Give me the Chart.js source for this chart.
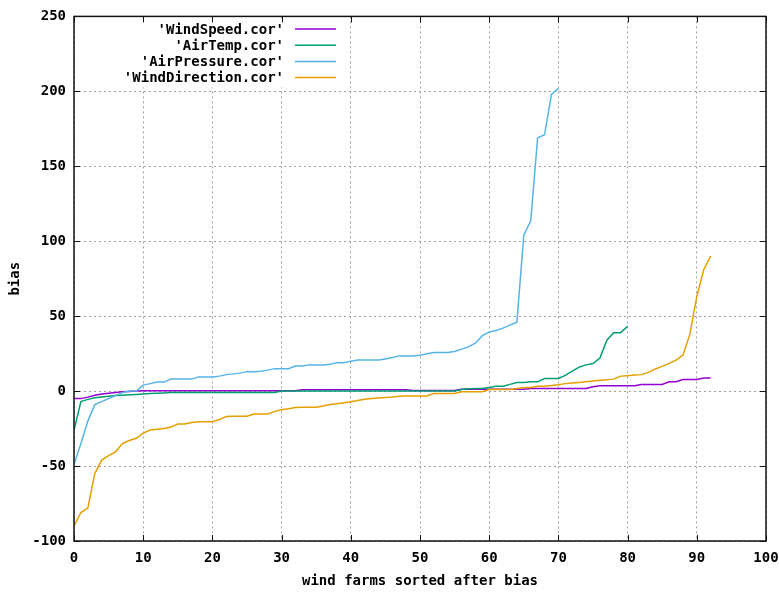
<!DOCTYPE html>
<html>
<head>
<meta charset="utf-8">
<script src="https://cdn.jsdelivr.net/npm/chart.js@4/dist/chart.umd.min.js"></script>
<style>
	body { margin: 0; background: #fff; }
	canvas { display: block; }
</style>
</head>
<body>
<canvas id="biasChart" width="779" height="592"></canvas>
<script>
// series labels, as gnuplot printed them
const seriesNames = ["'WindSpeed.cor'", "'AirTemp.cor'", "'AirPressure.cor'", "'WindDirection.cor'"];
const seriesColors = ['#9400d3', '#009e73', '#56b4e9', '#e69f00'];

// bias per wind farm (index = rank after sorting)
const windSpeed = [
	-5, -5, -4, -2.7, -2, -1.5, -1, -0.5, -0.3, 0,
	0.2, 0.2, 0.2, 0.2, 0.2, 0.2, 0.2, 0.2, 0.2, 0.2,
	0.2, 0.2, 0.2, 0.2, 0.2, 0.2, 0.2, 0.2, 0.2, 0.2,
	0.2, 0.2, 0.2, 0.9, 0.9, 0.9, 0.9, 0.9, 0.9, 0.9,
	0.9, 0.9, 0.9, 0.9, 0.9, 0.9, 0.9, 0.9, 0.9, 0.4,
	0.4, 0.4, 0.4, 0.4, 0.4, 0.4, 1.3, 1.3, 1.3, 1.3,
	1.3, 1.3, 1.3, 1.3, 1.3, 1.3, 1.8, 1.8, 1.8, 1.8,
	1.8, 1.8, 1.8, 1.8, 1.8, 2.9, 3.6, 3.6, 3.6, 3.6,
	3.6, 3.6, 4.4, 4.4, 4.4, 4.4, 6.2, 6.2, 7.8, 7.8,
	7.8, 8.7, 8.7,
];
const airTemp = [
	-26, -7, -5.5, -4.5, -4, -3.5, -3, -2.7, -2.5, -2.3,
	-2, -1.6, -1.5, -1.3, -1, -1, -0.9, -0.9, -0.9, -0.9,
	-0.9, -0.9, -0.9, -0.9, -0.9, -0.9, -0.9, -0.9, -0.9, -0.9,
	0, 0, 0, 0, 0, 0, 0, 0, 0, 0,
	0, 0, 0, 0, 0, 0, 0, 0, 0, 0,
	0, 0, 0, 0, 0, 0, 1, 1.5, 1.8, 1.8,
	2.4, 3.3, 3.3, 4.5, 5.8, 5.8, 6.2, 6.2, 8.4, 8.4,
	8.4, 10.5, 13.3, 16, 17.5, 18.4, 22, 34, 39, 39,
	43.3,
];
const airPressure = [
	-49, -35, -20, -9, -7, -5, -3, -1, 0, 0,
	4, 5, 6, 6, 8, 8, 8, 8, 9.5, 9.5,
	9.5, 10, 11, 11.5, 12, 13, 13, 13.3, 14, 15,
	15, 15, 16.7, 16.7, 17.5, 17.5, 17.5, 18, 19, 19,
	20, 20.7, 20.7, 20.7, 20.7, 21.5, 22.4, 23.5, 23.5, 23.5,
	24, 25, 25.8, 25.8, 25.8, 26.5, 28, 29.5, 32, 37,
	39.5, 40.5, 42, 44, 46, 104, 113.5, 169, 171, 198,
	202,
];
const windDirection = [
	-90, -81, -78, -55, -46, -43, -40.5, -35, -33, -31.5,
	-28, -26, -25.5, -25, -24, -22, -22, -21, -20.4, -20.4,
	-20.4, -19, -17, -16.7, -16.7, -16.7, -15.3, -15.3, -15.3, -13.5,
	-12.5, -11.8, -11, -10.8, -10.8, -10.8, -10, -9, -8.5, -7.8,
	-7.1, -6.3, -5.5, -5, -4.6, -4.3, -4, -3.5, -3.3, -3.3,
	-3.3, -3.3, -1.6, -1.6, -1.6, -1.6, -0.4, -0.4, -0.4, -0.4,
	1.1, 1.1, 1.1, 1.1, 1.8, 2.4, 2.4, 3.3, 3.3, 3.8,
	4.2, 5, 5.4, 5.8, 6.2, 6.7, 7.3, 7.5, 8, 10,
	10.3, 10.7, 11, 12.5, 14.8, 16.5, 18.5, 20.7, 24, 38,
	63, 81, 90,
];
const allSeries = [windSpeed, airTemp, airPressure, windDirection];

// axis ticks
const xTicks = [0, 10, 20, 30, 40, 50, 60, 70, 80, 90, 100];
const yTicks = [-100, -50, 0, 50, 100, 150, 200, 250];

const FONT = 'DejaVu Sans Mono';

//gnuplot style key: right aligned names, sample line on the right
const keyPlugin = {
	id: 'gnuKey',
	beforeDatasetsDraw(chart) {
		const ctx = chart.ctx;
		ctx.save();
		ctx.fillStyle = '#fff';
		ctx.fillRect(chart.chartArea.left + 2, chart.chartArea.top + 3, 266, 68);
		ctx.font = 'bold 14px "' + FONT + '"';
		ctx.textAlign = 'right';
		ctx.textBaseline = 'middle';
		chart.data.datasets.forEach((ds, i) => {
			const y = 29 + i * 16.2;
			ctx.fillStyle = '#000';
			ctx.fillText(ds.label, 284, y + 1);
			ctx.strokeStyle = ds.borderColor;
			ctx.lineWidth = 1.5;
			ctx.beginPath();
			ctx.moveTo(295, y);
			ctx.lineTo(336, y);
			ctx.stroke();
		});
		ctx.restore();
	},
};

//frame around plot + inward ticks on all four sides
const framePlugin = {
	id: 'gnuFrame',
	afterDraw(chart) {
		const ctx = chart.ctx;
		const {left, right, top, bottom} = chart.chartArea;
		const xs = chart.scales.x;
		const ys = chart.scales.y;
		ctx.save();
		ctx.strokeStyle = '#111';
		ctx.lineWidth = 1.5;
		ctx.strokeRect(left, top, right - left, bottom - top);
		ctx.lineWidth = 1;
		ctx.beginPath();
		xTicks.forEach((t) => {
			const px = Math.round(xs.getPixelForValue(t)) + 0.5;
			ctx.moveTo(px, bottom);
			ctx.lineTo(px, bottom - 6);
			ctx.moveTo(px, top);
			ctx.lineTo(px, top + 6);
		});
		yTicks.forEach((t) => {
			const py = Math.round(ys.getPixelForValue(t)) + 0.5;
			ctx.moveTo(left, py);
			ctx.lineTo(left + 6, py);
			ctx.moveTo(right, py);
			ctx.lineTo(right - 6, py);
		});
		ctx.stroke();
		ctx.restore();
	},
};

const datasets = allSeries.map((values, i) => ({
	label: seriesNames[i],
	data: values.map((v, idx) => ({x: idx, y: v})),
	borderColor: seriesColors[i],
	backgroundColor: seriesColors[i],
	borderWidth: 1.5,
	pointRadius: 0,
	tension: 0,
	fill: false,
	order: allSeries.length - i,
}));

const ctx = document.getElementById('biasChart').getContext('2d');
const biasChart = new Chart(ctx, {
	type: 'line',
	data: {datasets: datasets},
	options: {
		responsive: false,
		animation: false,
		layout: {padding: {top: 16, right: 0, left: 0, bottom: 0}},
		plugins: {
			legend: {display: false},
			tooltip: {enabled: false},
		},
		scales: {
			x: {
				type: 'linear',
				min: 0,
				max: 100,
				afterFit: (scale) => {
					scale.height = 51;
					scale.paddingLeft = 0;
					scale.paddingRight = 13;
				},
				afterBuildTicks: (scale) => { scale.ticks = xTicks.map((v) => ({value: v})); },
				ticks: {
					color: '#000',
					padding: 9,
					font: {family: FONT, size: 14, weight: 'bold'},
					maxRotation: 0,
				},
				grid: {color: '#a0a0a0', lineWidth: 1, drawTicks: false},
				border: {display: false, dash: [2, 3]},
				title: {
					display: true,
					text: 'wind farms sorted after bias',
					color: '#000',
					font: {family: FONT, size: 14, weight: 'bold'},
					padding: {top: 0, bottom: 2},
				},
			},
			y: {
				type: 'linear',
				min: -100,
				max: 250,
				afterFit: (scale) => { scale.width = 74; },
				afterBuildTicks: (scale) => { scale.ticks = yTicks.map((v) => ({value: v})); },
				ticks: {
					color: '#000',
					padding: 8,
					font: {family: FONT, size: 14, weight: 'bold'},
				},
				grid: {color: '#a0a0a0', lineWidth: 1, drawTicks: false},
				border: {display: false, dash: [2, 3]},
				title: {
					display: true,
					text: 'bias',
					color: '#000',
					font: {family: FONT, size: 14, weight: 'bold'},
					padding: {top: 7, bottom: 0},
				},
			},
		},
	},
	plugins: [keyPlugin, framePlugin],
});
</script>
</body>
</html>
